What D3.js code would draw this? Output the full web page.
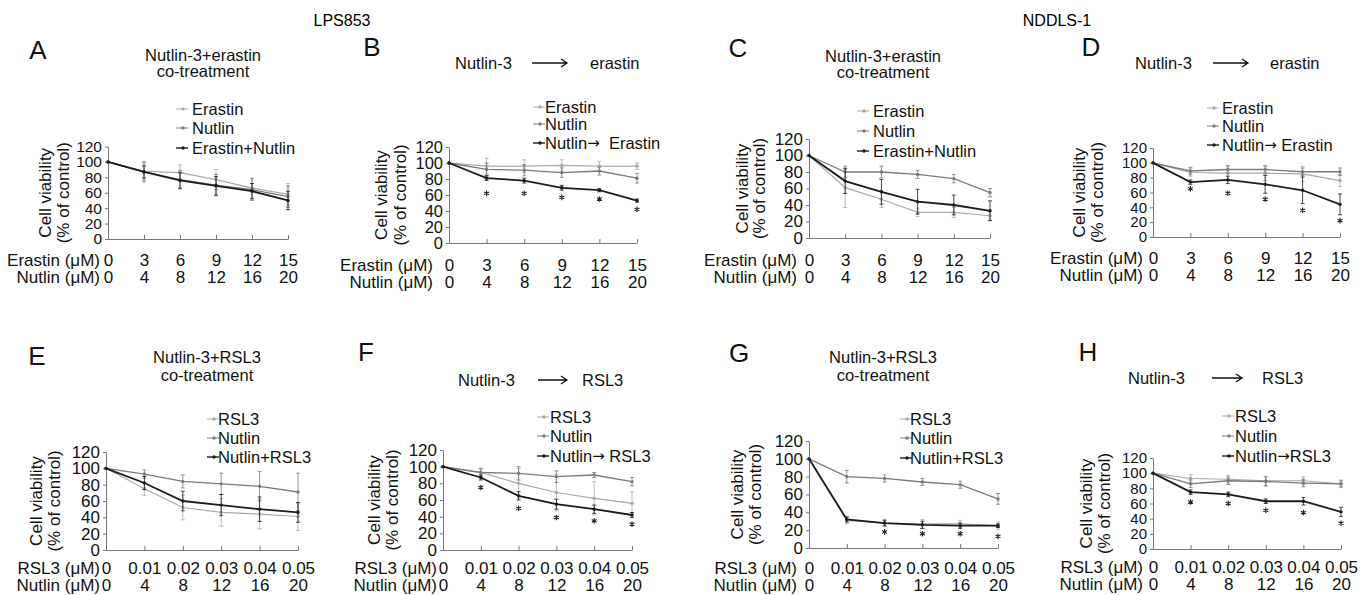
<!DOCTYPE html>
<html>
<head>
<meta charset="utf-8">
<script src="https://cdn.jsdelivr.net/npm/d3@7/dist/d3.min.js"></script>
<style>
  html, body { margin: 0; padding: 0; background: #fff; }
  svg { display: block; }
</style>
</head>
<body>
<svg id="chart" width="1370" height="595"></svg>
<script>
// ---------------- DATA ----------------
const erastinDoses = ["0", "3", "6", "9", "12", "15"];
const rsl3Doses = ["0", "0.01", "0.02", "0.03", "0.04", "0.05"];
const nutlinDoses = ["0", "4", "8", "12", "16", "20"];
const yTicks = [0, 20, 40, 60, 80, 100, 120];

// Panel A (LPS853, Nutlin-3 + erastin co-treatment)
const A_erastin = [100, 88, 86, 77, 66, 58];
const A_erastinErr = [0, 12, 10, 13, 13, 14];
const A_nutlin = [100, 87, 77, 70, 64, 55];
const A_nutlinErr = [0, 13, 12, 14, 14, 14];
const A_combo = [100, 87, 76, 69, 62, 50];
const A_comboErr = [0, 8, 10, 12, 10, 12];

// Panel B (LPS853, Nutlin-3 -> erastin)
const B_erastin = [100, 96, 96, 97, 96, 96];
const B_erastinErr = [0, 10, 8, 7, 6, 4];
const B_nutlin = [100, 92, 91, 88, 90, 81];
const B_nutlinErr = [0, 8, 7, 6, 5, 6];
const B_combo = [100, 81, 78, 69, 66, 53];
const B_comboErr = [0, 3, 3, 3, 2, 2];
const B_stars = [null, 62, 62, 57, 55, 42];

// Panel C (NDDLS-1, co-treatment)
const C_erastin = [100, 61, 47, 31, 31, 27];
const C_erastinErr = [0, 24, 10, 5, 6, 5];
const C_nutlin = [100, 80, 80, 77, 72, 55];
const C_nutlinErr = [0, 7, 7, 5, 5, 5];
const C_combo = [100, 69, 56, 44, 40, 33];
const C_comboErr = [0, 15, 15, 15, 12, 12];

// Panel D (NDDLS-1, Nutlin-3 -> erastin)
const D_erastin = [100, 87, 86, 86, 85, 76];
const D_erastinErr = [0, 5, 10, 10, 10, 8];
const D_nutlin = [100, 89, 91, 91, 88, 88];
const D_nutlinErr = [0, 5, 5, 5, 5, 5];
const D_combo = [100, 74, 77, 71, 63, 44];
const D_comboErr = [0, 3, 5, 12, 18, 14];
const D_stars = [null, 65, 59, 51, 36, 22];

// Panel E (LPS853, Nutlin-3 + RSL3 co-treatment)
const E_rsl3 = [100, 75, 52, 46, 44, 41];
const E_rsl3Err = [0, 8, 15, 17, 18, 17];
const E_nutlin = [100, 93, 84, 81, 78, 71];
const E_nutlinErr = [0, 5, 8, 13, 18, 23];
const E_combo = [100, 82, 60, 55, 50, 46];
const E_comboErr = [0, 8, 12, 13, 15, 12];

// Panel F (LPS853, Nutlin-3 -> RSL3)
const F_rsl3 = [100, 93, 80, 69, 62, 56];
const F_rsl3Err = [0, 4, 18, 22, 20, 14];
const F_nutlin = [100, 93, 92, 88, 90, 82];
const F_nutlinErr = [0, 5, 8, 7, 3, 5];
const F_combo = [100, 87, 65, 55, 49, 42];
const F_comboErr = [0, 3, 5, 6, 5, 3];
const F_stars = [null, 75, 50, 39, 35, 31];

// Panel G (NDDLS-1, co-treatment)
const G_rsl3 = [100, 31, 28, 27, 27, 25];
const G_rsl3Err = [0, 4, 4, 5, 4, 4];
const G_nutlin = [100, 80, 78, 74, 71, 55];
const G_nutlinErr = [0, 7, 4, 4, 4, 6];
const G_combo = [100, 32, 28, 26, 25, 25];
const G_comboErr = [0, 3, 3, 4, 3, 2];
const G_stars = [null, null, 18, 16, 16, 13];

// Panel H (NDDLS-1, Nutlin-3 -> RSL3)
const H_rsl3 = [100, 93, 92, 90, 90, 86];
const H_rsl3Err = [0, 5, 5, 6, 5, 5];
const H_nutlin = [100, 86, 90, 89, 87, 86];
const H_nutlinErr = [0, 5, 5, 6, 5, 4];
const H_combo = [100, 75, 72, 63, 63, 49];
const H_comboErr = [0, 3, 3, 3, 5, 6];
const H_stars = [null, 62, 60, 51, 48, 34];

// ---------------- STYLE / LAYOUT ----------------
const FONT = "'Liberation Sans', Arial, Helvetica, sans-serif";
const LIGHT = "#a9a9a9", MID = "#7b7b7b", DARK = "#1c1c1c";

const svg = d3.select("#chart");
svg.append("rect").attr("width", 1370).attr("height", 595).attr("fill", "#fff");

function series(vals, errs, color, width, label) { return { vals, errs, color, width, label }; }

const panels = [
  { letter: "A", lx: 38, ly: 50, x0: 108, x5: 288, y0: 239, y120: 146.5, ytf: 15.5,
    title: { kind: "co", cx: 203, y1: 55, y2: 71, text: "Nutlin-3+erastin" },
    leg: { mx: 176, tx: 192, ys: [109, 128, 148] }, yt: [-63, -45], rowGap: 8, rows: [260, 277],
    rowNames: ["Erastin (\u03bcM)", "Nutlin (\u03bcM)"], doses: erastinDoses,
    series: [series(A_erastin, A_erastinErr, LIGHT, 1.2, "Erastin"),
             series(A_nutlin, A_nutlinErr, MID, 1.3, "Nutlin"),
             series(A_combo, A_comboErr, DARK, 1.8, "Erastin+Nutlin")], stars: null },
  { letter: "B", lx: 372, ly: 47, x0: 449, x5: 637, y0: 243, y120: 147, ytf: 16.5,
    title: { kind: "seq", a: "Nutlin-3", ax: 455, x1: 532, x2: 567, b: "erastin", bx: 590, y: 63 },
    leg: { mx: 533, tx: 545, ys: [107, 124, 143] }, yt: [-68, -49], rowGap: 16, rows: [265, 282],
    rowNames: ["Erastin (\u03bcM)", "Nutlin (\u03bcM)"], doses: erastinDoses,
    series: [series(B_erastin, B_erastinErr, LIGHT, 1.2, "Erastin"),
             series(B_nutlin, B_nutlinErr, MID, 1.3, "Nutlin"),
             series(B_combo, B_comboErr, DARK, 1.8, ["Nutlin", "\u2192", "  Erastin"])], stars: B_stars },
  { letter: "C", lx: 738, ly: 47.5, x0: 809, x5: 990, y0: 238, y120: 139, ytf: 17,
    title: { kind: "co", cx: 883, y1: 56, y2: 72, text: "Nutlin-3+erastin" },
    leg: { mx: 857, tx: 873, ys: [111, 131, 151] }, yt: [-67, -50], rowGap: 12, rows: [260, 277],
    rowNames: ["Erastin (\u03bcM)", "Nutlin (\u03bcM)"], doses: erastinDoses,
    series: [series(C_erastin, C_erastinErr, LIGHT, 1.2, "Erastin"),
             series(C_nutlin, C_nutlinErr, MID, 1.3, "Nutlin"),
             series(C_combo, C_comboErr, DARK, 1.8, "Erastin+Nutlin")], stars: null },
  { letter: "D", lx: 1091, ly: 47, x0: 1153, x5: 1340, y0: 237, y120: 148, ytf: 15,
    title: { kind: "seq", a: "Nutlin-3", ax: 1135, x1: 1213, x2: 1248, b: "erastin", bx: 1270, y: 63 },
    leg: { mx: 1207, tx: 1222, ys: [108, 126, 145] }, yt: [-74, -56], rowGap: 10, rows: [258, 275],
    rowNames: ["Erastin (\u03bcM)", "Nutlin (\u03bcM)"], doses: erastinDoses,
    series: [series(D_erastin, D_erastinErr, LIGHT, 1.2, "Erastin"),
             series(D_nutlin, D_nutlinErr, MID, 1.3, "Nutlin"),
             series(D_combo, D_comboErr, DARK, 1.8, ["Nutlin", "\u2192", " Erastin"])], stars: D_stars },
  { letter: "E", lx: 37, ly: 356, x0: 106, x5: 298, y0: 550, y120: 452, ytf: 17,
    title: { kind: "co", cx: 207, y1: 357, y2: 375, text: "Nutlin-3+RSL3" },
    leg: { mx: 207, tx: 218, ys: [419, 438, 457] }, yt: [-70, -52], rowGap: 6, rows: [568, 585],
    rowNames: ["RSL3 (\u03bcM)", "Nutlin (\u03bcM)"], doses: rsl3Doses,
    series: [series(E_rsl3, E_rsl3Err, LIGHT, 1.2, "RSL3"),
             series(E_nutlin, E_nutlinErr, MID, 1.3, "Nutlin"),
             series(E_combo, E_comboErr, DARK, 1.8, "Nutlin+RSL3")], stars: null },
  { letter: "F", lx: 366, ly: 352, x0: 443, x5: 632, y0: 550, y120: 450, ytf: 17,
    title: { kind: "seq", a: "Nutlin-3", ax: 458, x1: 538, x2: 567, b: "RSL3", bx: 582, y: 380 },
    leg: { mx: 537, tx: 550, ys: [417, 436, 456] }, yt: [-69, -51], rowGap: 6, rows: [568, 585],
    rowNames: ["RSL3 (\u03bcM)", "Nutlin (\u03bcM)"], doses: rsl3Doses,
    series: [series(F_rsl3, F_rsl3Err, LIGHT, 1.2, "RSL3"),
             series(F_nutlin, F_nutlinErr, MID, 1.3, "Nutlin"),
             series(F_combo, F_comboErr, DARK, 1.8, ["Nutlin", "\u2192", " RSL3"])], stars: F_stars },
  { letter: "G", lx: 739, ly: 353, x0: 809, x5: 998, y0: 548, y120: 441, ytf: 17,
    title: { kind: "co", cx: 883, y1: 357, y2: 375, text: "Nutlin-3+RSL3" },
    leg: { mx: 900, tx: 910, ys: [419, 438, 458] }, yt: [-72, -54], rowGap: 12, rows: [568, 585],
    rowNames: ["RSL3 (\u03bcM)", "Nutlin (\u03bcM)"], doses: rsl3Doses,
    series: [series(G_rsl3, G_rsl3Err, LIGHT, 1.2, "RSL3"),
             series(G_nutlin, G_nutlinErr, MID, 1.3, "Nutlin"),
             series(G_combo, G_comboErr, DARK, 1.8, "Nutlin+RSL3")], stars: G_stars },
  { letter: "H", lx: 1088, ly: 352, x0: 1153, x5: 1341, y0: 549, y120: 458, ytf: 15,
    title: { kind: "seq", a: "Nutlin-3", ax: 1128, x1: 1212, x2: 1242, b: "RSL3", bx: 1262, y: 378 },
    leg: { mx: 1222, tx: 1235, ys: [416, 436, 456] }, yt: [-67, -49], rowGap: 10, rows: [567, 584],
    rowNames: ["RSL3 (\u03bcM)", "Nutlin (\u03bcM)"], doses: rsl3Doses,
    series: [series(H_rsl3, H_rsl3Err, LIGHT, 1.2, "RSL3"),
             series(H_nutlin, H_nutlinErr, MID, 1.3, "Nutlin"),
             series(H_combo, H_comboErr, DARK, 1.8, ["Nutlin", "\u2192", "RSL3"])], stars: H_stars }
];

// ---------------- HEADERS ----------------
svg.append("text").attr("x", 342).attr("y", 20).attr("text-anchor", "middle")
  .attr("dominant-baseline", "central").attr("font-family", FONT).attr("font-size", 16).text("LPS853");
svg.append("text").attr("x", 1057).attr("y", 20).attr("text-anchor", "middle")
  .attr("dominant-baseline", "central").attr("font-family", FONT).attr("font-size", 16).text("NDDLS-1");

function txt(g, x, y, s, size, anchor) {
  return g.append("text").attr("x", x).attr("y", y).attr("text-anchor", anchor || "start")
    .attr("dominant-baseline", "central").attr("font-family", FONT).attr("font-size", size)
    .attr("fill", "#111").text(s);
}

function drawPanel(p) {
  const g = svg.append("g");
  const idx = d3.range(p.doses.length);
  const x = d3.scalePoint().domain(idx).range([p.x0, p.x5]);
  const y = d3.scaleLinear().domain([0, 120]).range([p.y0, p.y120]);

  // panel letter
  txt(g, p.lx, p.ly, p.letter, 26, "middle");

  // title
  if (p.title.kind === "co") {
    txt(g, p.title.cx, p.title.y1, p.title.text, 16.5, "middle");
    txt(g, p.title.cx, p.title.y2, "co-treatment", 16.5, "middle");
  } else {
    const t = p.title;
    txt(g, t.ax, t.y, t.a, 16.5, "start");
    txt(g, t.bx, t.y, t.b, 16.5, "start");
    g.append("path")
      .attr("d", `M${t.x1},${t.y}H${t.x2}M${t.x2 - 6},${t.y - 4}L${t.x2},${t.y}L${t.x2 - 6},${t.y + 4}`)
      .attr("fill", "none").attr("stroke", "#111").attr("stroke-width", 1.3);
  }

  // y axis
  const ya = g.append("g").attr("transform", `translate(${p.x0},0)`)
    .call(d3.axisLeft(y).tickValues(yTicks).tickSize(3).tickSizeOuter(0).tickPadding(3));
  ya.select(".domain").attr("stroke", "#777");
  ya.selectAll(".tick line").attr("stroke", "#777");
  ya.selectAll(".tick text").attr("font-family", FONT).attr("font-size", p.ytf).attr("fill", "#111");

  // x axis (ticks pointing inward)
  const xa = g.append("g").attr("transform", `translate(0,${p.y0})`)
    .call(d3.axisBottom(x).tickSize(-4).tickSizeOuter(0).tickFormat(""));
  xa.select(".domain").attr("stroke", "#777");
  xa.selectAll(".tick line").attr("stroke", "#777");

  // x tick label rows
  [p.doses, nutlinDoses].forEach((labels, r) => {
    const row = g.append("g").attr("transform", `translate(0,${p.rows[r]})`)
      .call(d3.axisBottom(x).tickSize(0).tickPadding(0).tickFormat(i => labels[i]));
    row.select(".domain").remove();
    row.selectAll(".tick text").attr("y", 0).attr("dy", "0.35em")
      .attr("font-family", FONT).attr("font-size", 17).attr("fill", "#111");
    txt(g, p.x0 - p.rowGap, p.rows[r], p.rowNames[r], 17, "end");
  });

  // y axis title
  const ym = (p.y0 + p.y120) / 2;
  ["Cell viability", "(% of control)"].forEach((s, k) => {
    g.append("text").attr("transform", `translate(${p.x0 + p.yt[k]},${ym}) rotate(-90)`)
      .attr("text-anchor", "middle").attr("dominant-baseline", "central")
      .attr("font-family", FONT).attr("font-size", 17).attr("fill", "#111").text(s);
  });

  // series
  const line = d3.line().x((d, i) => x(i)).y(d => y(d));
  p.series.forEach(s => {
    // error bars
    s.vals.forEach((v, i) => {
      const e = s.errs[i];
      if (!e) return;
      g.append("path")
        .attr("d", `M${x(i)},${y(v - e)}V${y(v + e)}M${x(i) - 2},${y(v - e)}h4M${x(i) - 2},${y(v + e)}h4`)
        .attr("stroke", s.color).attr("stroke-width", 0.8).attr("fill", "none");
    });
    g.append("path").datum(s.vals).attr("d", line)
      .attr("fill", "none").attr("stroke", s.color).attr("stroke-width", s.width);
    g.selectAll(null).data(s.vals).enter().append("circle")
      .attr("cx", (d, i) => x(i)).attr("cy", d => y(d)).attr("r", 1.7).attr("fill", s.color);
  });

  // stars
  if (p.stars) {
    const star = d3.symbol(d3.symbolAsterisk, 22);
    p.stars.forEach((v, i) => {
      if (v == null) return;
      g.append("path").attr("d", star()).attr("transform", `translate(${x(i)},${y(v)})`)
        .attr("fill", "none").attr("stroke", "#222").attr("stroke-width", 1.1);
    });
  }

  // legend
  p.series.forEach((s, k) => {
    const ly = p.leg.ys[k];
    g.append("line").attr("x1", p.leg.mx).attr("x2", p.leg.mx + 12).attr("y1", ly).attr("y2", ly)
      .attr("stroke", s.color).attr("stroke-width", s.width === 1.8 ? 1.4 : 1);
    g.append("circle").attr("cx", p.leg.mx + 7).attr("cy", ly).attr("r", 1.7).attr("fill", s.color);
    const t = txt(g, p.leg.tx, ly, "", 16.5, "start").attr("xml:space", "preserve");
    if (Array.isArray(s.label)) {
      t.append("tspan").text(s.label[0]);
      t.append("tspan").attr("font-family", "'DejaVu Sans', sans-serif").attr("font-size", 15).text(s.label[1]);
      t.append("tspan").text(s.label[2]);
    } else {
      t.text(s.label);
    }
  });
}

panels.forEach(drawPanel);
</script>
</body>
</html>
